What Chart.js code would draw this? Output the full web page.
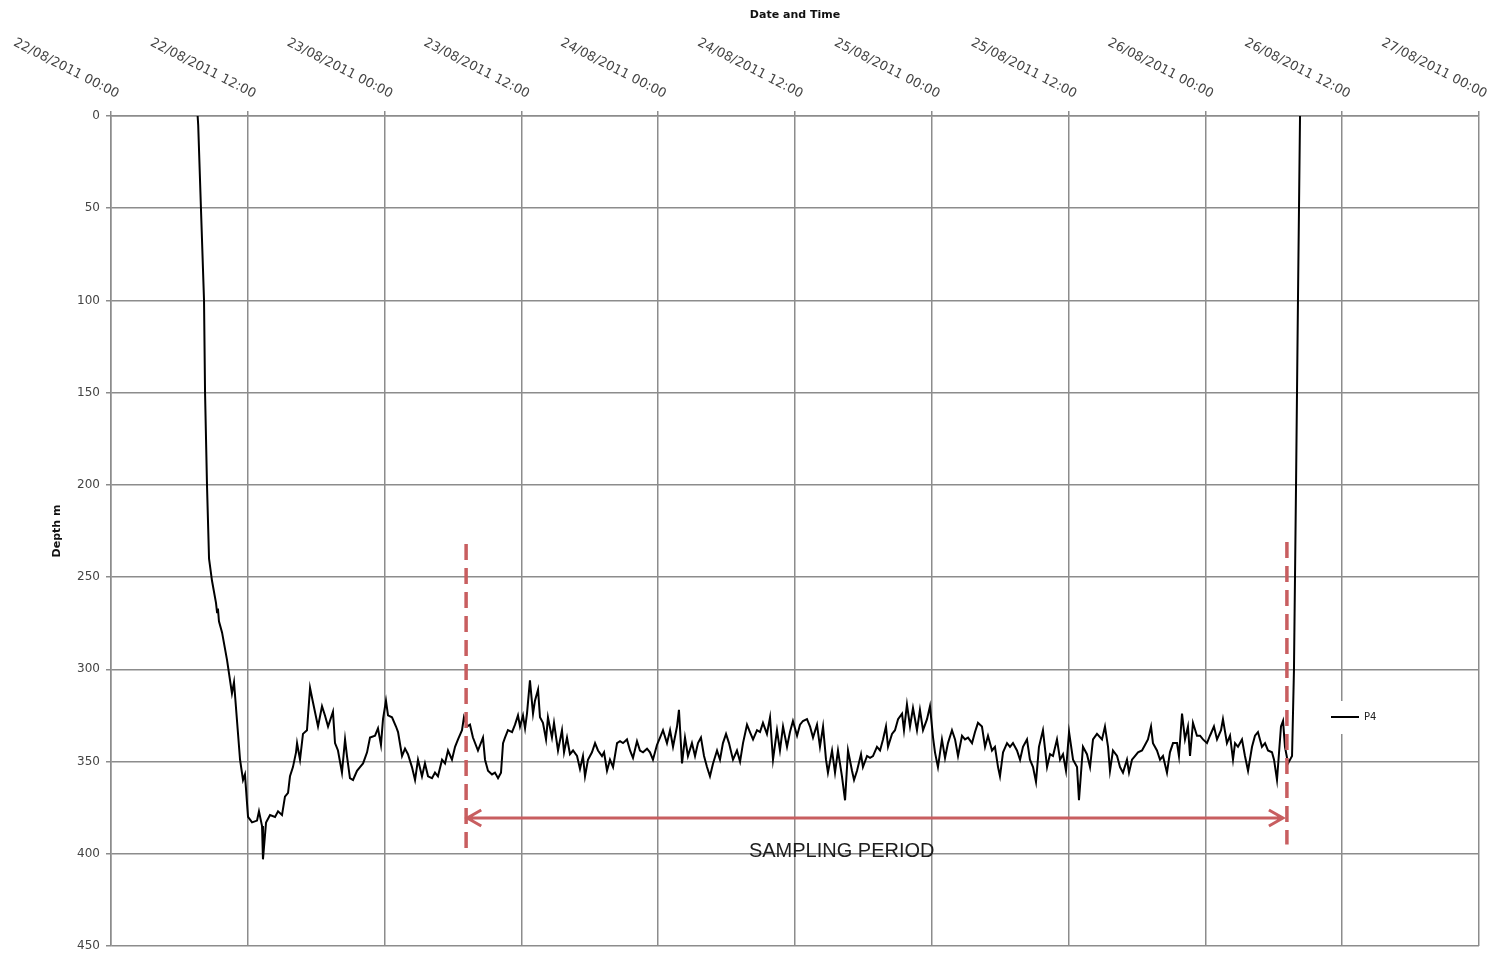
<!DOCTYPE html>
<html>
<head>
<meta charset="utf-8">
<title>P4 - Depth</title>
<script src="https://cdn.jsdelivr.net/npm/chart.js@4.4.0/dist/chart.umd.min.js"></script>
<style>
  html, body { margin: 0; padding: 0; background: #fff; }
  #wrap { width: 1490px; height: 954px; }
</style>
</head>
<body>
<div id="wrap"><canvas id="depthChart" width="1490" height="954"></canvas></div>
<script>
// Rótulos do eixo do tempo (um a cada 12 h, a partir de 22/08/2011 00:00)
const tickLabels = [
  '22/08/2011 00:00', '22/08/2011 12:00', '23/08/2011 00:00', '23/08/2011 12:00',
  '24/08/2011 00:00', '24/08/2011 12:00', '25/08/2011 00:00', '25/08/2011 12:00',
  '26/08/2011 00:00', '26/08/2011 12:00', '27/08/2011 00:00'
];
const depthTicks = [0, 50, 100, 150, 200, 250, 300, 350, 400, 450];
const seriesName = 'P4';

// horas desde 22/08/2011 00:00
const hours = [
  7.6, 7.65, 7.89, 8.16, 8.25, 8.42, 8.6, 8.86, 9.21, 9.3,
  9.38, 9.47, 9.74, 10.18, 10.61, 10.79, 11.32, 11.58, 11.75, 12.02,
  12.37, 12.81, 12.98, 13.25, 13.33, 13.6, 13.95, 14.39, 14.65, 15.0,
  15.26, 15.53, 15.7, 15.96, 16.23, 16.32, 16.58, 16.84, 17.19, 17.46,
  17.72, 18.16, 18.51, 18.77, 19.04, 19.47, 19.65, 19.91, 20.26, 20.53,
  20.7, 20.96, 21.23, 21.58, 21.84, 22.11, 22.46, 22.72, 23.16, 23.42,
  23.68, 23.86, 24.12, 24.3, 24.65, 25.0, 25.18, 25.53, 25.79, 26.05,
  26.4, 26.67, 26.93, 27.28, 27.54, 27.81, 28.16, 28.42, 28.68, 29.04,
  29.3, 29.56, 29.91, 30.18, 30.44, 30.79, 30.96, 31.23, 31.49, 31.75,
  32.19, 32.63, 32.81, 33.07, 33.42, 33.68, 33.95, 34.21, 34.39, 34.56,
  34.82, 35.18, 35.44, 35.7, 35.88, 36.14, 36.32, 36.49, 36.75, 37.02,
  37.19, 37.46, 37.63, 37.89, 38.16, 38.33, 38.68, 38.86, 39.21, 39.56,
  39.74, 40.0, 40.26, 40.53, 40.88, 41.14, 41.4, 41.58, 41.84, 42.19,
  42.46, 42.72, 43.07, 43.25, 43.51, 43.77, 44.04, 44.39, 44.65, 44.91,
  45.26, 45.53, 45.79, 46.14, 46.4, 46.67, 47.02, 47.28, 47.54, 47.89,
  48.16, 48.42, 48.77, 49.04, 49.3, 49.65, 49.82, 50.09, 50.35, 50.61,
  50.96, 51.23, 51.49, 51.75, 52.02, 52.28, 52.54, 52.81, 53.16, 53.42,
  53.68, 53.95, 54.21, 54.56, 54.91, 55.18, 55.44, 55.79, 56.05, 56.32,
  56.67, 56.93, 57.19, 57.54, 57.81, 58.07, 58.42, 58.68, 58.95, 59.3,
  59.56, 59.82, 60.18, 60.44, 60.7, 61.05, 61.32, 61.58, 61.93, 62.19,
  62.46, 62.72, 62.89, 63.25, 63.51, 63.77, 64.12, 64.39, 64.65, 65.0,
  65.18, 65.44, 65.79, 65.96, 66.32, 66.58, 66.84, 67.19, 67.46, 67.72,
  67.98, 68.16, 68.51, 68.77, 69.04, 69.39, 69.56, 69.82, 70.09, 70.35,
  70.7, 70.96, 71.23, 71.58, 71.84, 72.11, 72.28, 72.54, 72.89, 73.16,
  73.42, 73.77, 74.04, 74.3, 74.65, 74.91, 75.18, 75.53, 75.79, 76.05,
  76.4, 76.67, 76.93, 77.28, 77.54, 77.81, 77.98, 78.25, 78.6, 78.86,
  79.12, 79.47, 79.74, 80.0, 80.35, 80.61, 80.88, 81.14, 81.4, 81.75,
  82.11, 82.37, 82.63, 82.98, 83.25, 83.51, 83.77, 84.04, 84.39, 84.74,
  84.91, 85.26, 85.61, 85.88, 86.14, 86.49, 86.93, 87.19, 87.46, 87.63,
  87.89, 88.25, 88.51, 88.77, 89.12, 89.3, 89.56, 89.82, 90.09, 90.44,
  90.7, 90.96, 91.23, 91.4, 91.75, 92.02, 92.28, 92.63, 92.89, 93.16,
  93.51, 93.68, 93.95, 94.21, 94.47, 94.65, 94.91, 95.26, 95.53, 95.79,
  96.14, 96.4, 96.75, 97.02, 97.37, 97.54, 97.89, 98.16, 98.42, 98.6,
  98.86, 99.21, 99.47, 99.74, 100.09, 100.35, 100.61, 100.96, 101.23, 101.49,
  101.84, 102.02, 102.28, 102.63, 102.81, 102.98, 103.25, 103.6, 103.77, 103.95,
  104.12, 104.3
];

// profundidade (m)
const depth = [
  0, 5, 50, 100, 150, 200, 240, 252, 264, 269,
  267, 274, 280, 295, 313, 307, 349, 360, 357, 380,
  383, 382, 377, 385, 403, 383, 379, 380, 377, 379,
  369, 367, 358, 353, 345, 340, 349, 335, 333, 310,
  318, 331, 320, 325, 331, 323, 340, 344, 356, 338,
  347, 359, 360, 355, 353, 351, 345, 337, 336, 332,
  341, 327, 317, 325, 326, 331, 334, 347, 343, 346,
  353, 360, 349, 358, 351, 358, 359, 356, 358, 349,
  351, 344, 349, 342, 338, 333, 326, 331, 330, 337,
  344, 337, 349, 355, 357, 356, 359, 356, 340, 337,
  333, 334, 330, 325, 331, 325, 332, 324, 306, 324,
  317, 311, 326, 329, 338, 326, 337, 329, 344, 333,
  345, 337, 346, 344, 347, 354, 347, 358, 349, 345,
  340, 344, 347, 345, 355, 349, 353, 340, 339, 340,
  338, 344, 348, 339, 344, 345, 343, 345, 349, 341,
  337, 333, 340, 333, 342, 331, 322, 351, 337, 347,
  340, 347, 340, 337, 347, 353, 358, 351, 344, 349,
  340, 335, 340, 349, 344, 350, 340, 330, 334, 338,
  333, 334, 329, 335, 326, 349, 333, 344, 331, 342,
  334, 328, 336, 330, 328, 327, 331, 337, 330, 342,
  331, 349, 356, 344, 356, 344, 358, 371, 344, 355,
  360, 355, 346, 353, 347, 348, 347, 342, 344, 338,
  331, 342, 335, 333, 327, 324, 333, 319, 331, 321,
  333, 322, 333, 327, 320, 337, 345, 353, 338, 348,
  340, 333, 338, 347, 336, 338, 337, 340, 334, 329,
  331, 342, 336, 344, 342, 353, 358, 345, 340, 342,
  340, 344, 349, 342, 338, 349, 353, 361, 342, 333,
  353, 346, 347, 338, 349, 346, 355, 334, 349, 353,
  371, 342, 346, 353, 338, 335, 338, 331, 342, 355,
  344, 347, 353, 356, 349, 356, 349, 347, 345, 344,
  341, 338, 331, 340, 344, 349, 347, 356, 345, 340,
  340, 347, 324, 338, 331, 347, 329, 336, 336, 338,
  340, 336, 331, 338, 333, 327, 340, 336, 349, 340,
  342, 338, 347, 355, 342, 336, 334, 342, 340, 344,
  345, 349, 360, 331, 328, 342, 351, 347, 300, 200,
  100, 0
];

// período de amostragem (anotação em vermelho)
const samplingStart = 31.15;
const samplingEnd = 103.15;
const samplingLabel = 'SAMPLING PERIOD';

const gridColor = '#8c8c8c';
const redNote = '#c85e60';

// rótulos de data inclinados, títulos dos eixos e legenda
const decorations = {
  id: 'decorations',
  afterDatasetsDraw(chart) {
    const { ctx, scales: { x, y } } = chart;
    ctx.save();
    ctx.strokeStyle = redNote;

    // linhas tracejadas verticais
    ctx.lineWidth = 3.5;
    ctx.setLineDash([16, 8]);
    [[samplingStart, 232, 397], [samplingEnd, 231, 395]].forEach(([h, d0, d1]) => {
      const px = x.getPixelForValue(h);
      ctx.beginPath();
      ctx.moveTo(px, y.getPixelForValue(d0));
      ctx.lineTo(px, y.getPixelForValue(d1));
      ctx.stroke();
    });

    // seta dupla
    ctx.setLineDash([]);
    ctx.lineWidth = 3;
    const ay = y.getPixelForValue(380.6);
    const ax0 = x.getPixelForValue(samplingStart + 0.1);
    const ax1 = x.getPixelForValue(samplingEnd - 0.35);
    ctx.beginPath();
    ctx.moveTo(ax0, ay);
    ctx.lineTo(ax1, ay);
    ctx.moveTo(ax0 + 14, ay - 8);
    ctx.lineTo(ax0, ay);
    ctx.lineTo(ax0 + 14, ay + 8);
    ctx.moveTo(ax1 - 14, ay - 8);
    ctx.lineTo(ax1, ay);
    ctx.lineTo(ax1 - 14, ay + 8);
    ctx.stroke();

    ctx.font = '20px "Liberation Sans"';
    ctx.fillStyle = '#1e1e1e';
    ctx.textAlign = 'center';
    ctx.textBaseline = 'middle';
    ctx.fillText(samplingLabel, x.getPixelForValue(64.1), y.getPixelForValue(398.5));
    ctx.restore();
  },
  afterDraw(chart) {
    const { ctx, chartArea, scales: { x } } = chart;
    ctx.save();

    ctx.font = '13px "DejaVu Sans"';
    ctx.fillStyle = '#444';
    ctx.textAlign = 'right';
    ctx.textBaseline = 'middle';
    tickLabels.forEach((lbl, i) => {
      const px = x.getPixelForValue(i * 12);
      ctx.save();
      ctx.translate(px + 7, chartArea.top - 21);
      ctx.rotate(27 * Math.PI / 180);
      ctx.fillText(lbl, 0, 0);
      ctx.restore();
    });

    ctx.font = 'bold 11px "DejaVu Sans"';
    ctx.fillStyle = '#111';
    ctx.textAlign = 'center';
    ctx.fillText('Date and Time', (chartArea.left + chartArea.right) / 2, 15);
    ctx.save();
    ctx.translate(57, (chartArea.top + chartArea.bottom) / 2);
    ctx.rotate(-Math.PI / 2);
    ctx.fillText('Depth m', 0, 0);
    ctx.restore();

    // legenda
    const lx = chartArea.right - 148;
    const ly = 717;
    ctx.fillStyle = '#fff';
    ctx.fillRect(lx - 4, ly - 16, 64, 33);
    ctx.strokeStyle = '#000';
    ctx.lineWidth = 2;
    ctx.beginPath();
    ctx.moveTo(lx, ly);
    ctx.lineTo(lx + 28, ly);
    ctx.stroke();
    ctx.font = '10px "DejaVu Sans"';
    ctx.fillStyle = '#222';
    ctx.textAlign = 'left';
    ctx.fillText(seriesName, lx + 33, ly);
    ctx.restore();
  }
};

const ctx = document.getElementById('depthChart').getContext('2d');
const depthChart = new Chart(ctx, {
  type: 'line',
  data: {
    datasets: [{
      label: seriesName,
      data: hours.map((h, i) => ({ x: h, y: depth[i] })),
      borderColor: '#000',
      borderWidth: 2,
      pointRadius: 0,
      tension: 0,
      fill: false
    }]
  },
  options: {
    responsive: false,
    animation: false,
    layout: { padding: { left: 0, top: 0, right: 11, bottom: 8 } },
    plugins: {
      legend: { display: false },
      tooltip: { enabled: false }
    },
    scales: {
      x: {
        type: 'linear',
        position: 'top',
        min: 0,
        max: 120,
        ticks: { stepSize: 12, display: false },
        grid: { color: gridColor, lineWidth: 1.5, tickLength: 5 },
        border: { color: gridColor, width: 1.5 },
        afterFit(scale) {
          scale.height = 116;
          scale.paddingLeft = 0;
          scale.paddingRight = 0;
        }
      },
      y: {
        type: 'linear',
        min: 0,
        max: 450,
        reverse: true,
        afterBuildTicks(scale) { scale.ticks = depthTicks.map(v => ({ value: v })); },
        ticks: { padding: 6, color: '#444', font: { family: 'DejaVu Sans', size: 12 } },
        grid: { color: gridColor, lineWidth: 1.5, tickLength: 5 },
        border: { color: gridColor, width: 1.5 },
        afterFit(scale) {
          scale.width = 111;
          scale.paddingTop = 0;
          scale.paddingBottom = 0;
        }
      }
    }
  },
  plugins: [decorations]
});
</script>
</body>
</html>
